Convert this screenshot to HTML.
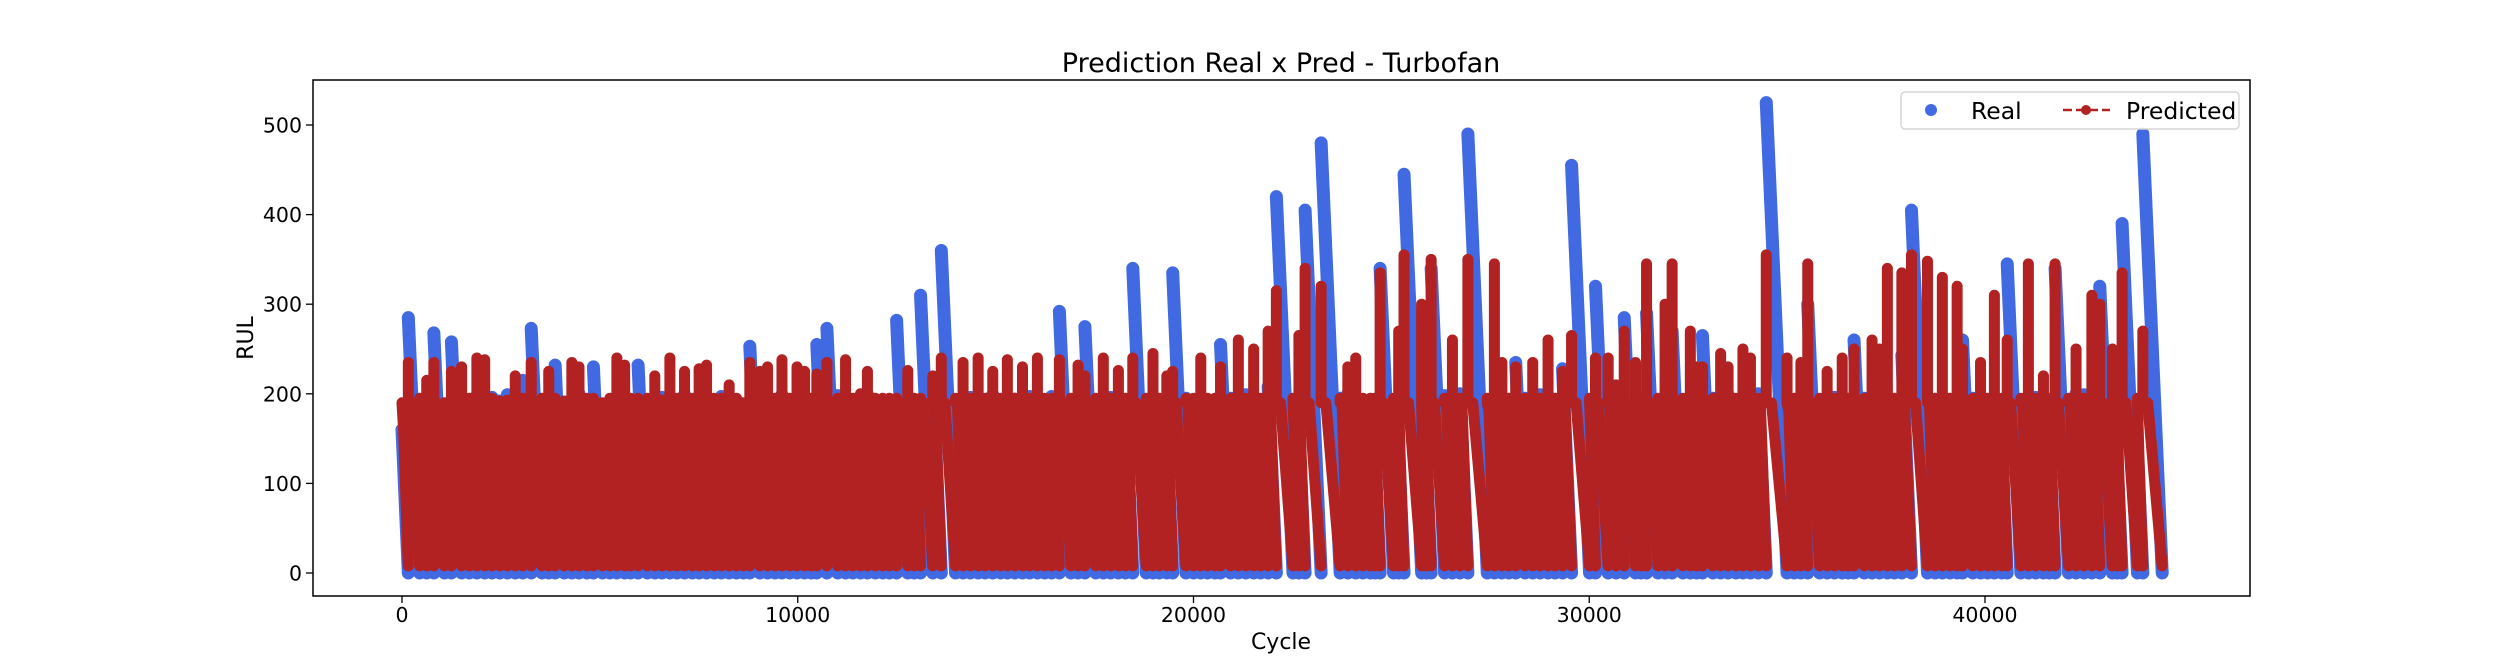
<!DOCTYPE html>
<html><head><meta charset="utf-8"><style>
body{margin:0;background:#fff}
svg{display:block;font-family:"DejaVu Sans","Liberation Sans",sans-serif}
</style></head><body>
<svg id="chart" width="2500" height="670" viewBox="0 0 2500 670" xmlns="http://www.w3.org/2000/svg">
<rect width="2500" height="670" fill="#fff"/>
<defs><clipPath id="clip"><rect x="313" y="80" width="1937" height="516"/></clipPath></defs>
<text x="1281" y="72" font-size="27" text-anchor="middle">Prediction Real x Pred - Turbofan</text>
<g id="real" clip-path="url(#clip)"></g>
<g id="pred" clip-path="url(#clip)"></g>
<rect x="313" y="80" width="1937" height="516" fill="none" stroke="#000" stroke-width="1.5"/>
<g id="xticks"></g>
<g id="yticks"></g>
<text x="1281" y="649" font-size="22" text-anchor="middle">Cycle</text>
<text x="253" y="338" font-size="22" text-anchor="middle" transform="rotate(-90 253 338)">RUL</text>
<g>
<rect x="1901" y="92" width="338" height="37" rx="4" fill="#fff" fill-opacity="0.85" stroke="#d6d6d6" stroke-width="1.5"/>
<circle cx="1931" cy="110" r="6" fill="#4169E1"/>
<text x="1971" y="119" font-size="23.5">Real</text>
<line x1="2063" y1="110" x2="2110" y2="110" stroke="#B22222" stroke-width="2.5" stroke-dasharray="9,4"/>
<circle cx="2086" cy="110" r="5" fill="#B22222"/>
<text x="2126" y="119" font-size="23.5">Predicted</text>
</g>
</svg>
<script>
const xTicks=[0,10000,20000,30000,40000];
const yTicks=[0,100,200,300,400,500];
const rulMax=[160,285,180,180,268,176,258,195,190,198,185,196,192,199,188,215,273,170,162,232,190,180,200,165,230,185,178,196,150,190,232,190,185,196,178,192,199,170,188,194,180,197,186,172,164,253,195,188,176,199,182,190,170,140,255,273,198,185,192,176,199,188,170,180,282,160,163,310,214,360,190,185,196,178,192,199,170,188,194,180,197,186,172,197,292,180,173,275,190,185,196,178,186,340,170,160,190,148,335,195,180,170,189,140,255,195,188,199,176,190,208,420,150,156,405,480,195,200,180,190,120,125,340,130,135,445,120,120,340,198,190,200,490,180,190,175,174,235,195,188,199,176,190,228,455,150,320,200,206,285,140,139,290,178,178,270,190,160,146,265,195,188,199,176,190,200,200,525,180,170,173,300,190,185,196,150,149,260,195,188,199,176,190,243,405,190,185,196,178,136,260,195,180,170,189,135,345,190,185,196,150,144,340,190,200,199,200,320,122,122,390,134,490];
const predPeak=[190,235,195,215,235,190,225,230,195,240,238,195,192,193,220,195,235,195,225,195,192,235,230,195,195,190,195,240,232,195,195,195,220,193,240,195,225,195,228,232,195,195,210,195,190,235,225,230,195,238,195,230,225,195,222,235,195,238,195,200,225,195,195,195,195,226,195,195,220,240,195,235,195,240,195,225,195,238,195,230,195,240,195,195,238,195,232,220,195,240,195,226,195,240,195,245,195,220,225,195,195,240,195,195,230,195,260,195,250,195,270,315,195,265,340,320,195,230,240,195,195,195,335,195,270,355,300,195,350,195,260,195,350,195,345,235,195,230,195,235,195,260,195,225,265,195,240,240,210,270,235,195,345,195,300,345,195,270,230,230,195,245,230,195,250,240,195,355,240,195,235,345,195,225,195,240,195,250,195,260,250,340,195,335,355,348,195,330,195,320,250,195,235,195,310,195,260,195,345,195,220,195,345,195,250,195,310,300,250,195,335,195,270];
const NS="http://www.w3.org/2000/svg";
const X=c=>402+c*0.039575;
const Y=v=>573-v*0.896;
const gx=document.getElementById('xticks'),gy=document.getElementById('yticks');
xTicks.forEach(t=>{
 const l=document.createElementNS(NS,'line');
 l.setAttribute('x1',X(t));l.setAttribute('x2',X(t));l.setAttribute('y1',596);l.setAttribute('y2',603);l.setAttribute('stroke','#000');l.setAttribute('stroke-width','1.3');
 
 
 gx.appendChild(l);
 const tx=document.createElementNS(NS,'text');
 tx.setAttribute('x',X(t));tx.setAttribute('y',622);tx.setAttribute('font-size','20.5');tx.setAttribute('text-anchor','middle');tx.textContent=t;
 
 
 gx.appendChild(tx);
});
yTicks.forEach(t=>{
 const l=document.createElementNS(NS,'line');
 l.setAttribute('x1',306);l.setAttribute('x2',313);l.setAttribute('y1',Y(t));l.setAttribute('y2',Y(t));l.setAttribute('stroke','#000');l.setAttribute('stroke-width','1.3');
 
 
 gy.appendChild(l);
 const tx=document.createElementNS(NS,'text');
 tx.setAttribute('x',302);tx.setAttribute('y',Y(t)+7.5);tx.setAttribute('font-size','20.5');tx.setAttribute('text-anchor','end');tx.textContent=t;
 
 
 gy.appendChild(tx);
});
const gr=document.getElementById('real'),gp=document.getElementById('pred');
let start=0;
rulMax.forEach((L,i)=>{
 const end=start+L;
 const r=document.createElementNS(NS,'line');
 r.setAttribute('x1',X(start));r.setAttribute('y1',Y(L));r.setAttribute('x2',X(end));r.setAttribute('y2',Y(0));
 r.setAttribute('stroke','#4169E1');r.setAttribute('stroke-width','13');r.setAttribute('stroke-linecap','round');
 
 
 gr.appendChild(r);
 const p=predPeak[i]!==undefined?predPeak[i]:190;
 const q=document.createElementNS(NS,'polyline');
 const mid=start+L*0.25;
 const pts=[[X(start),Y(p)],[X(start),Y(Math.min(p,190))],[X(mid),Y(Math.min(p,190,L))],[X(end-2),Y(8)]];
 q.setAttribute('points',pts.map(a=>a.join(',')).join(' '));
 q.setAttribute('fill','none');q.setAttribute('stroke','#B22222');q.setAttribute('stroke-width','11');q.setAttribute('stroke-linecap','round');q.setAttribute('stroke-linejoin','round');
 
 
 gp.appendChild(q);
 start=end;
});
</script>
</body></html>
